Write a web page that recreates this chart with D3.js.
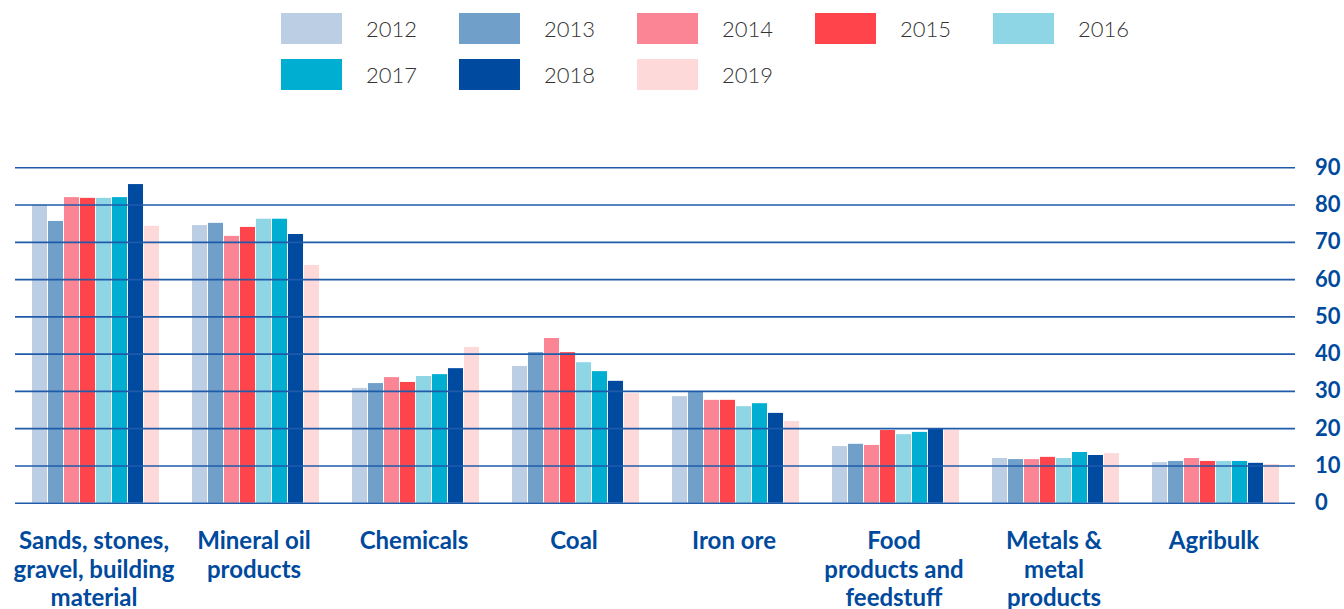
<!DOCTYPE html>
<html>
<head>
<meta charset="utf-8">
<script src="https://cdn.jsdelivr.net/npm/d3@7"></script>
<style>
  body { margin: 0; background: #fff; }
  svg { display: block; font-family: Lato, "Open Sans", sans-serif; }
</style>
</head>
<body>
<script>
// chart size
var w = 1344;
var h = 609;

var categories = ['Sands', 'Mineral oil', 'Chemicals', 'Coal', 'Iron ore', 'Food', 'Metals', 'Agribulk'];
var categoryLabels = [
    ['Sands, stones,', 'gravel, building', 'material'],
    ['Mineral oil', 'products'],
    ['Chemicals'],
    ['Coal'],
    ['Iron ore'],
    ['Food', 'products and', 'feedstuff'],
    ['Metals &', 'metal', 'products'],
    ['Agribulk']
];
var years = ['2012', '2013', '2014', '2015', '2016', '2017', '2018', '2019'];
var yearColors = ['#bccee4', '#709fc9', '#fb8594', '#ff444b', '#8ed6e6', '#00aed1', '#004aa0', '#fdd9da'];

// values per year, in category order
var v2012 = [80.0, 74.5, 30.8, 36.7, 28.6, 15.2, 12.0, 10.9];
var v2013 = [75.6, 75.1, 32.1, 40.4, 29.8, 15.8, 11.7, 11.2];
var v2014 = [82.0, 71.6, 33.7, 44.2, 27.6, 15.5, 11.7, 12.0];
var v2015 = [81.8, 74.0, 32.4, 40.4, 27.6, 19.5, 12.3, 11.2];
var v2016 = [81.8, 76.2, 34.0, 37.7, 25.9, 18.4, 12.0, 11.2];
var v2017 = [82.0, 76.2, 34.5, 35.3, 26.7, 19.0, 13.6, 11.2];
var v2018 = [85.5, 72.1, 36.1, 32.7, 24.1, 20.0, 12.8, 10.7];
var v2019 = [74.3, 63.8, 41.8, 29.4, 21.9, 19.5, 13.3, 10.4];
var series = [v2012, v2013, v2014, v2015, v2016, v2017, v2018, v2019];

var yTicks = [0, 10, 20, 30, 40, 50, 60, 70, 80, 90];

var blue = '#004a9e';

var svg = d3.select('body').append('svg')
    .attr('width', w)
    .attr('height', h);

// scales
var x0 = d3.scaleBand()
    .domain(categories)
    .range([16, 1296])
    .paddingInner(0.2)
    .paddingOuter(0.1);

var x1 = d3.scaleBand()
    .domain(years)
    .range([0, x0.bandwidth()]);

var y = d3.scaleLinear()
    .domain([0, 90])
    .range([502.7, 167.3]);

var color = d3.scaleOrdinal().domain(years).range(yearColors);

// bars
var rows = categories.map((c, i) => ({
    cat: c,
    vals: years.map((yr, j) => ({year: yr, value: series[j][i]}))
}));

var bar_g = svg.append('g').attr('class', 'bars');

bar_g.selectAll('.group')
    .data(rows)
    .enter()
    .append('g')
    .attr('class', 'group')
    .attr('transform', d => 'translate(' + x0(d.cat) + ',0)')
    .selectAll('rect')
    .data(d => d.vals)
    .enter()
    .append('rect')
    .attr('x', d => x1(d.year))
    .attr('width', x1.bandwidth() - 1)
    .attr('y', d => y(d.value))
    .attr('height', d => y(0) - y(d.value))
    .attr('fill', d => color(d.year));

// gridlines over the bars + right axis labels
var yAxis = d3.axisRight(y)
    .tickValues(yTicks)
    .tickSize(1280)
    .tickPadding(20);

var axis_g = svg.append('g')
    .attr('transform', 'translate(15,0)')
    .call(yAxis);

axis_g.select('.domain').remove();
axis_g.selectAll('.tick line')
    .attr('stroke', '#1f5ba8')
    .attr('stroke-width', 1.6);
axis_g.selectAll('.tick text')
    .attr('fill', blue)
    .attr('font-size', 22)
    .attr('font-weight', 700)
    .attr('font-family', 'Lato, sans-serif');

// category labels
var label_g = svg.append('g').attr('class', 'labels');

label_g.selectAll('text')
    .data(categories)
    .enter()
    .append('text')
    .attr('text-anchor', 'middle')
    .attr('fill', blue)
    .attr('font-size', 24)
    .attr('font-weight', 700)
    .attr('transform', d => 'translate(' + (x0(d) + x0.bandwidth() / 2 - 2) + ',549)')
    .selectAll('tspan')
    .data((d, i) => categoryLabels[i])
    .enter()
    .append('tspan')
    .attr('x', 0)
    .attr('dy', (d, i) => i === 0 ? 0 : 28.7)
    .text(d => d);

// legend
var legend_g = svg.append('g').attr('class', 'legend');

var item = legend_g.selectAll('.item')
    .data(years)
    .enter()
    .append('g')
    .attr('class', 'item')
    .attr('transform', (d, i) => 'translate(' + (281 + (i % 5) * 178) + ',' + (13 + Math.floor(i / 5) * 46) + ')');

item.append('rect')
    .attr('width', 61)
    .attr('height', 31)
    .attr('fill', d => color(d));

item.append('text')
    .attr('x', 85)
    .attr('y', 24)
    .attr('font-size', 22)
    .attr('font-weight', 300)
    .attr('fill', '#333')
    .text(d => d);
</script>
</body>
</html>
